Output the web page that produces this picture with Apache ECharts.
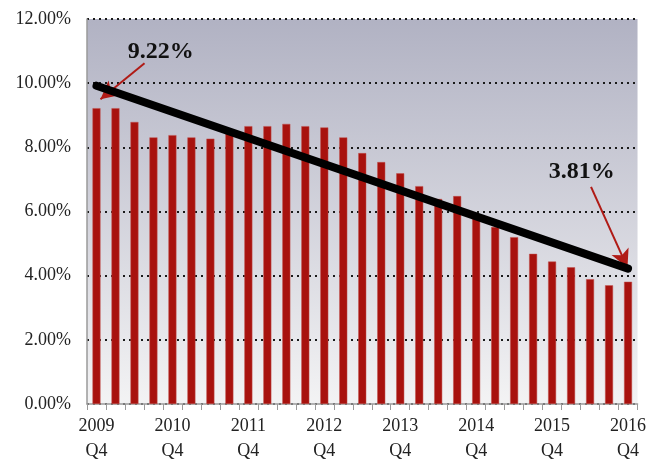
<!DOCTYPE html>
<html lang="en">
<head>
<meta charset="UTF-8">
<script src="https://cdn.jsdelivr.net/npm/echarts@6/dist/echarts.min.js"></script>
<title>Rate</title>
<style>
  html, body { margin: 0; padding: 0; background: #fff; }
  #main { width: 649px; height: 464px; }
</style>
</head>
<body>
<div id="main"></div>
<script>
// quarters 2009 Q4 .. 2016 Q4
var quarters = [
  '2009\nQ4','2010\nQ1','2010\nQ2','2010\nQ3','2010\nQ4',
  '2011\nQ1','2011\nQ2','2011\nQ3','2011\nQ4',
  '2012\nQ1','2012\nQ2','2012\nQ3','2012\nQ4',
  '2013\nQ1','2013\nQ2','2013\nQ3','2013\nQ4',
  '2014\nQ1','2014\nQ2','2014\nQ3','2014\nQ4',
  '2015\nQ1','2015\nQ2','2015\nQ3','2015\nQ4',
  '2016\nQ1','2016\nQ2','2016\nQ3','2016\nQ4'
];
var rates = [
  9.22, 9.22, 8.79, 8.31, 8.38,
  8.31, 8.27, 8.45, 8.66,
  8.66, 8.73, 8.66, 8.62,
  8.31, 7.82, 7.54, 7.19,
  6.79, 6.39, 6.48, 5.78,
  5.52, 5.20, 4.68, 4.44,
  4.26, 3.89, 3.70, 3.81
];
var yTicks = [0, 2, 4, 6, 8, 10, 12];
// trend line ends [index, value]
var trendLine = [[0, 9.92], [28, 4.22]];
// arrows: [from, to] as [index, value]
var arrowFirst = [[2.53, 10.62], [0.21, 9.5]];
var arrowLast = [[26.05, 6.77], [27.97, 4.25]];
// callout label spots
var labelFirst = [3.38, 10.98];
var labelLast = [25.56, 7.25];

var serif = '"Liberation Serif", "DejaVu Serif", serif';
var red = '#a8120e';

var chart = echarts.init(document.getElementById('main'));
var option = {
  animation: false,
  grid: {
    left: 87, right: 9, top: 19, bottom: 59,
    show: true,
    borderWidth: 0,
    backgroundColor: new echarts.graphic.LinearGradient(0, 0, 0, 1, [
      { offset: 0, color: '#b1b2c3' },
      { offset: 1, color: '#f3f3f4' }
    ])
  },
  xAxis: [
    {
      type: 'category',
      data: quarters,
      boundaryGap: true,
      axisLine: { lineStyle: { color: '#9a9a9a', width: 1.5 } },
      axisTick: { show: true, interval: 0, length: 6, lineStyle: { color: '#9a9a9a' } },
      axisLabel: {
        interval: 3,
        margin: 10,
        fontFamily: serif,
        fontSize: 18,
        lineHeight: 25,
        color: '#222'
      }
    },
    { type: 'value', min: -0.5, max: 28.5, show: false }
  ],
  yAxis: {
    type: 'value',
    min: yTicks[0],
    max: yTicks[yTicks.length - 1],
    interval: 2,
    axisLine: { show: true, onZero: false, lineStyle: { color: '#9a9a9a', width: 1.5 } },
    axisTick: { show: false },
    axisLabel: {
      margin: 16,
      fontFamily: serif,
      fontSize: 18,
      color: '#222',
      formatter: function (v) { return v.toFixed(2) + '%'; }
    },
    splitLine: { show: true, lineStyle: { color: '#1a1a1a', type: [2, 4], width: 2 } }
  },
  series: [
    {
      type: 'bar',
      data: rates,
      barWidth: '42%',
      itemStyle: { color: red, borderColor: '#c0504d', borderWidth: 0.5 }
    },
    {
      type: 'line',
      xAxisIndex: 1,
      data: trendLine,
      symbol: 'none',
      lineStyle: { color: '#000', width: 8, cap: 'round' },
      z: 5,
      markPoint: {
        symbol: 'circle',
        symbolSize: 0,
        label: {
          show: true,
          position: 'inside',
          fontFamily: serif,
          fontWeight: 'bold',
          fontSize: 24,
          color: '#111'
        },
        data: [
          { coord: labelFirst, label: { formatter: rates[0].toFixed(2) + '%' } },
          { coord: labelLast, label: { formatter: rates[rates.length - 1].toFixed(2) + '%' } }
        ]
      },
      markLine: {
        silent: true,
        symbol: ['none', 'arrow'],
        symbolSize: [14, 18],
        label: { show: false },
        lineStyle: { color: '#b01b16', width: 2, type: 'solid' },
        data: [
          [{ coord: arrowFirst[0] }, { coord: arrowFirst[1] }],
          [{ coord: arrowLast[0] }, { coord: arrowLast[1] }]
        ]
      }
    }
  ]
};
chart.setOption(option);
</script>
</body>
</html>
